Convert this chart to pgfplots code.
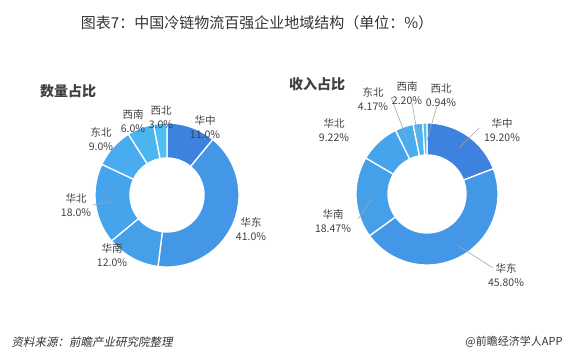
\documentclass[border=0pt]{standalone}
\usepackage{fontspec}
\setmainfont{Noto Sans CJK SC}
\newfontfamily\cjkit{Noto Sans CJK SC}[FakeSlant=0.2]
\usepackage{pgfplots}
\usepackage{pgfplotstable}
\pgfplotsset{compat=1.18}
\definecolor{slice0}{HTML}{3D82DE}
\definecolor{slice1}{HTML}{4397E6}
\definecolor{slice2}{HTML}{459FE9}
\definecolor{slice3}{HTML}{45A4EB}
\definecolor{slice4}{HTML}{48ACEE}
\definecolor{slice5}{HTML}{4BB5F0}
\definecolor{slice6}{HTML}{4EBEF3}
\definecolor{txt}{HTML}{404040}
\definecolor{leader}{HTML}{A6A6A6}

\pgfplotstableread{
region count income
华中 11 19.20
华东 41 45.80
华南 12 18.47
华北 18 9.22
东北 9 4.17
西南 6 2.20
西北 3 0.94
}\datatab

% #1 column, #2 cx, #3 cy, #4 outer radius, #5 inner radius (pixel units, y down)
\newcommand\donut[5]{%
  \gdef\cum{0}%
  \pgfplotsforeachungrouped \k in {0,...,6}{%
    \pgfplotstablegetelem{\k}{#1}\of\datatab
    \pgfmathsetmacro\aS{-90+3.6*\cum}%
    \pgfmathsetmacro\cumN{\cum+\pgfplotsretval}%
    \xdef\cum{\cumN}%
    \pgfmathsetmacro\aE{-90+3.6*\cum}%
    \edef\doslice{\noexpand\addplot[fill=slice\k, draw=white, line width=1.3pt, line join=round,
      samples at={0,1,...,60,100,101,...,160}, variable=\noexpand\t]
      ({#2+((\noexpand\t<80)*#4+(\noexpand\t>80)*#5)*cos((\noexpand\t<80)*(\aS+(\aE-\aS)*\noexpand\t/60)+(\noexpand\t>80)*(\aE+(\aS-\aE)*(\noexpand\t-100)/60))},
       {#3+((\noexpand\t<80)*#4+(\noexpand\t>80)*#5)*sin((\noexpand\t<80)*(\aS+(\aE-\aS)*\noexpand\t/60)+(\noexpand\t>80)*(\aE+(\aS-\aE)*(\noexpand\t-100)/60))}) -- cycle;}%
    \doslice
  }%
}
\newcommand\lbl[4]{\node[align=center, inner sep=0pt, text=txt, font=\fontsize{10.5}{14}\selectfont] at (axis cs:#1,#2) {#3\\#4};}

\begin{document}
\begin{tikzpicture}
\begin{axis}[
  width=569pt, height=358pt, scale only axis,
  xmin=0, xmax=569, ymin=0, ymax=358, y dir=reverse,
  hide axis, clip=false,
]
\path (axis cs:0,0) rectangle (axis cs:569,358);

% title
\node[text=black!80, font=\fontsize{15}{18}\selectfont] at (axis cs:257,23) {图表7：中国冷链物流百强企业地域结构（单位：\%）};

% subtitles
\node[text=txt, font=\fontsize{14}{16}\selectfont\bfseries] at (axis cs:68,91) {数量占比};
\node[text=txt, font=\fontsize{14}{16}\selectfont\bfseries] at (axis cs:317,84) {收入占比};

% donuts
\donut{count}{167}{195}{72}{37}
\donut{income}{427}{194}{71}{39}

% leader lines
\addplot[leader, line width=0.6pt] coordinates {(93,205) (110,202)};
\addplot[leader, line width=0.6pt] coordinates {(391,97) (408,142)};
\addplot[leader, line width=0.6pt] coordinates {(412,103) (419,143)};
\addplot[leader, line width=0.6pt] coordinates {(437,106) (427,140)};
\addplot[leader, line width=0.6pt] coordinates {(479,128) (459,148)};
\addplot[leader, line width=0.6pt] coordinates {(358,219) (371,200)};
\addplot[leader, line width=0.6pt] coordinates {(493,268) (457,245)};

% labels left
\lbl{205}{127}{华中}{11.0\%}
\lbl{251}{229}{华东}{41.0\%}
\lbl{112}{255}{华南}{12.0\%}
\lbl{76}{205}{华北}{18.0\%}
\lbl{101}{139}{东北}{9.0\%}
\lbl{133}{121}{西南}{6.0\%}
\lbl{161}{117}{西北}{3.0\%}

% labels right
\lbl{373}{99}{东北}{4.17\%}
\lbl{407}{93.5}{西南}{2.20\%}
\lbl{441}{95.5}{西北}{0.94\%}
\lbl{334}{130}{华北}{9.22\%}
\lbl{502}{130}{华中}{19.20\%}
\lbl{333}{221}{华南}{18.47\%}
\lbl{506}{275}{华东}{45.80\%}

% footer
\node[anchor=west, text=black!80, font=\fontsize{11.5}{13}\selectfont\cjkit] at (axis cs:8,342) {资料来源：前瞻产业研究院整理};
\node[anchor=east, text=black!80, font=\fontsize{11}{13}\selectfont] at (axis cs:566,342) {@前瞻经济学人APP};
\end{axis}
\end{tikzpicture}
\end{document}
